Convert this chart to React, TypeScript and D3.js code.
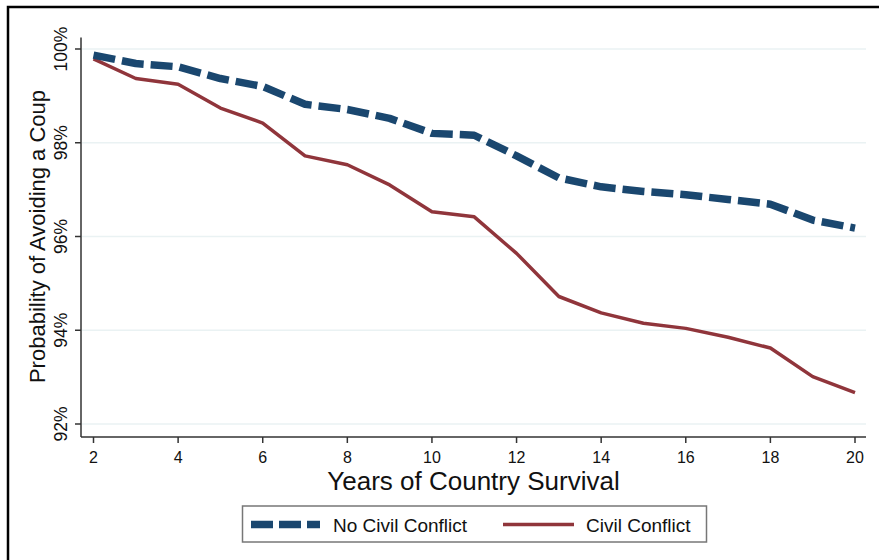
import React from "react";
import * as d3 from "d3";

const years = [2, 3, 4, 5, 6, 7, 8, 9, 10, 11, 12, 13, 14, 15, 16, 17, 18, 19, 20];
const noConflict = [99.87, 99.69, 99.62, 99.37, 99.2, 98.82, 98.71, 98.52, 98.2, 98.16, 97.72, 97.25, 97.06, 96.96, 96.89, 96.79, 96.69, 96.35, 96.18];
const conflict = [99.79, 99.37, 99.25, 98.74, 98.42, 97.72, 97.53, 97.1, 96.53, 96.42, 95.64, 94.72, 94.37, 94.15, 94.04, 93.85, 93.62, 93.01, 92.67];
const xTicks = [2, 4, 6, 8, 10, 12, 14, 16, 18, 20];
const yTicks = [92, 94, 96, 98, 100];
const seriesNames = ["No Civil Conflict", "Civil Conflict"];

const W = 879;
const H = 560;
const FONT = "'Liberation Sans', Arial, Helvetica, sans-serif";
const BLUE = "#1a476f";
const RED = "#90353b";

export default function App() {
  const x = d3.scaleLinear().domain([2, 20]).range([93.5, 855]);
  const y = d3.scaleLinear().domain([92, 100]).range([424, 49]);
  const plotLeft = 81;
  const plotRight = 866;
  const axisY = 437;
  const plotTop = 37.5;

  const line = d3
    .line<number>()
    .x((_, i) => x(years[i]))
    .y((d) => y(d));

  return (
    <div style={{ position: "absolute", left: 0, top: 0 }}>
      <svg width={W} height={H} style={{ display: "block", background: "#fff" }}>
        <rect x={0} y={0} width={W} height={H} fill="#fff" />
        {/* outer frame */}
        <path d={`M8,${H} L8,7 L${W},7`} fill="none" stroke="#000" strokeWidth={2.5} />

        {/* gridlines */}
        {yTicks.map((t) => (
          <line key={"g" + t} x1={plotLeft + 1} x2={plotRight} y1={y(t)} y2={y(t)} stroke="#eaf2f3" strokeWidth={1.5} />
        ))}

        {/* axes */}
        <line x1={plotLeft} x2={plotLeft} y1={plotTop} y2={axisY} stroke="#333" strokeWidth={1.5} />
        <line x1={plotLeft} x2={plotRight} y1={axisY} y2={axisY} stroke="#333" strokeWidth={1.5} />

        {/* y ticks */}
        {yTicks.map((t) => (
          <g key={"yt" + t}>
            <line x1={plotLeft - 6} x2={plotLeft} y1={y(t)} y2={y(t)} stroke="#333" strokeWidth={1.5} />
            <text
              transform={`translate(66.5,${y(t)}) rotate(-90)`}
              textAnchor="middle"
              fontFamily={FONT}
              fontSize={17.5}
              fill="#111"
            >
              {t}%
            </text>
          </g>
        ))}

        {/* x ticks */}
        {xTicks.map((t) => (
          <g key={"xt" + t}>
            <line x1={x(t)} x2={x(t)} y1={axisY} y2={axisY + 6} stroke="#333" strokeWidth={1.5} />
            <text x={x(t)} y={463} textAnchor="middle" fontFamily={FONT} fontSize={16} fill="#111">
              {t}
            </text>
          </g>
        ))}

        {/* axis titles */}
        <text
          transform={`translate(45,236.5) rotate(-90)`}
          textAnchor="middle"
          fontFamily={FONT}
          fontSize={22}
          fill="#111"
        >
          Probability of Avoiding a Coup
        </text>
        <text x={(plotLeft + plotRight) / 2} y={490} textAnchor="middle" fontFamily={FONT} fontSize={26} fill="#111">
          Years of Country Survival
        </text>

        {/* series */}
        <path d={line(conflict) || ""} fill="none" stroke={RED} strokeWidth={3.5} strokeLinejoin="round" />
        <path d={line(noConflict) || ""} fill="none" stroke={BLUE} strokeWidth={7.5} strokeDasharray="22,7" strokeLinejoin="round" />

        {/* legend */}
        <rect x={242.5} y={506} width={464} height={36} fill="#fff" stroke="#777" strokeWidth={1.5} />
        <line x1={251} x2={320} y1={524.5} y2={524.5} stroke={BLUE} strokeWidth={7.5} strokeDasharray="22,6" />
        <text x={333} y={531.5} fontFamily={FONT} fontSize={19} fill="#111">
          {seriesNames[0]}
        </text>
        <line x1={503} x2={574} y1={524.5} y2={524.5} stroke={RED} strokeWidth={3.5} />
        <text x={586} y={531.5} fontFamily={FONT} fontSize={19} fill="#111">
          {seriesNames[1]}
        </text>
      </svg>
    </div>
  );
}
